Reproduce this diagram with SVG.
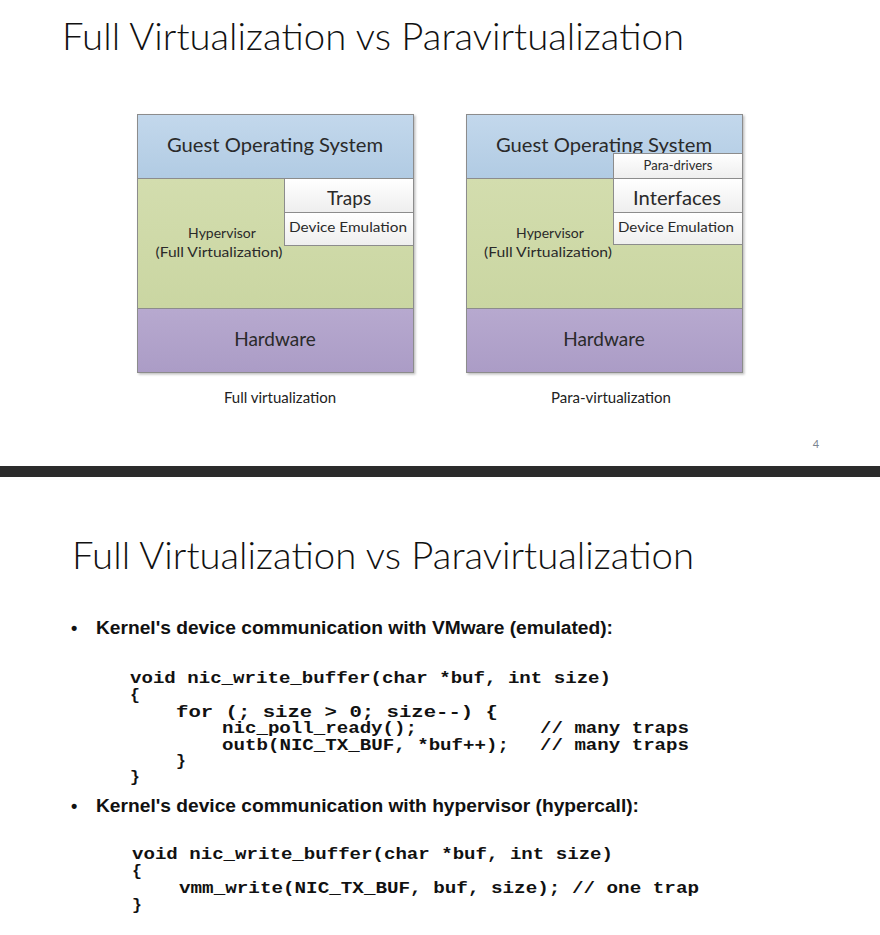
<svg xmlns="http://www.w3.org/2000/svg" width="880" height="935" viewBox="0 0 880 935">
  <style>
    .title { font-family: Lato, "Open Sans", "Liberation Sans", sans-serif; font-weight: 300; font-size: 37px; fill: #111; }
    .lbl { font-family: Lato, "Open Sans", "Liberation Sans", sans-serif; fill: #2a2a2a; text-anchor: middle; }
    .cap { font-family: Lato, "Open Sans", "Liberation Sans", sans-serif; fill: #222; text-anchor: middle; font-size: 15px; }
    .layer { stroke: #8c8c8c; stroke-width: 1; }
    .bul { font-family: "Liberation Sans", Arial, sans-serif; font-weight: bold; font-size: 18px; fill: #111; }
    .code { font-family: "Liberation Mono", "Courier New", monospace; font-weight: bold; font-size: 16.5px; fill: #111; white-space: pre; }
  </style>
  <defs>
    <linearGradient id="gBlue" x1="0" y1="0" x2="0" y2="1">
      <stop offset="0" stop-color="#c3d8ec"/>
      <stop offset="1" stop-color="#b1cbe3"/>
    </linearGradient>
    <linearGradient id="gGreen" x1="0" y1="0" x2="0" y2="1">
      <stop offset="0" stop-color="#d3ddae"/>
      <stop offset="1" stop-color="#cad6a2"/>
    </linearGradient>
    <linearGradient id="gPurple" x1="0" y1="0" x2="0" y2="1">
      <stop offset="0" stop-color="#b7a9cf"/>
      <stop offset="1" stop-color="#ab9cc6"/>
    </linearGradient>
    <linearGradient id="gWhite" x1="0" y1="0" x2="0" y2="1">
      <stop offset="0" stop-color="#ffffff"/>
      <stop offset="1" stop-color="#eeeeee"/>
    </linearGradient>
    <filter id="shadow" x="-5%" y="-5%" width="110%" height="110%">
      <feDropShadow dx="1.5" dy="1.5" stdDeviation="1.2" flood-color="#000" flood-opacity="0.25"/>
    </filter>
  </defs>

  <rect x="0" y="0" width="880" height="935" fill="#ffffff"/>

  <!-- slide 4 -->
  <text class="title" x="62" y="50" textLength="622" lengthAdjust="spacingAndGlyphs">Full Virtualization vs Paravirtualization</text>

  <!-- full virtualization stack -->
  <g id="full-virt">
    <g filter="url(#shadow)">
      <rect class="layer" x="137.5" y="114.5" width="276" height="64" fill="url(#gBlue)"/>
      <rect class="layer" x="137.5" y="178.5" width="276" height="130" fill="url(#gGreen)"/>
      <rect class="layer" x="137.5" y="308.5" width="276" height="64" fill="url(#gPurple)"/>
    </g>
    <rect class="layer" x="284.5" y="178.5" width="129" height="34" fill="url(#gWhite)"/>
    <rect class="layer" x="284.5" y="212.5" width="129" height="33" fill="url(#gWhite)"/>
    <text class="lbl" x="275" y="152" font-size="19" textLength="216" lengthAdjust="spacingAndGlyphs">Guest Operating System</text>
    <text class="lbl" x="349" y="205" font-size="19">Traps</text>
    <text class="lbl" x="348" y="232" font-size="14" textLength="118" lengthAdjust="spacingAndGlyphs">Device Emulation</text>
    <text class="lbl" x="222" y="238" font-size="14">Hypervisor</text>
    <text class="lbl" x="219" y="257" font-size="14" textLength="127" lengthAdjust="spacingAndGlyphs">(Full Virtualization)</text>
    <text class="lbl" x="275" y="346" font-size="19">Hardware</text>
    <text class="cap" x="280" y="403">Full virtualization</text>
  </g>

  <!-- para-virtualization stack -->
  <g id="para-virt">
    <g filter="url(#shadow)">
      <rect class="layer" x="466.5" y="114.5" width="276" height="64" fill="url(#gBlue)"/>
      <rect class="layer" x="466.5" y="178.5" width="276" height="130" fill="url(#gGreen)"/>
      <rect class="layer" x="466.5" y="308.5" width="276" height="64" fill="url(#gPurple)"/>
    </g>
    <text class="lbl" x="604" y="152" font-size="19" textLength="216" lengthAdjust="spacingAndGlyphs">Guest Operating System</text>
    <rect class="layer" x="613.5" y="153.5" width="129" height="25" fill="url(#gWhite)"/>
    <rect class="layer" x="613.5" y="178.5" width="129" height="34" fill="url(#gWhite)"/>
    <rect class="layer" x="613.5" y="212.5" width="129" height="32" fill="url(#gWhite)"/>
    <text class="lbl" x="678" y="170" font-size="13">Para-drivers</text>
    <text class="lbl" x="677" y="205" font-size="19" textLength="88" lengthAdjust="spacingAndGlyphs">Interfaces</text>
    <text class="lbl" x="676" y="232" font-size="14" textLength="116" lengthAdjust="spacingAndGlyphs">Device Emulation</text>
    <text class="lbl" x="550" y="238" font-size="14">Hypervisor</text>
    <text class="lbl" x="548" y="257" font-size="14" textLength="128" lengthAdjust="spacingAndGlyphs">(Full Virtualization)</text>
    <text class="lbl" x="604" y="346" font-size="19">Hardware</text>
    <text class="cap" x="611" y="403">Para-virtualization</text>
  </g>

  <text x="816" y="448" font-family="Lato, 'Open Sans', sans-serif" font-size="11" fill="#7a8590" text-anchor="middle">4</text>

  <!-- slide separator -->
  <rect x="0" y="466" width="880" height="11" fill="#2b2b2b"/>

  <!-- slide 5 -->
  <text class="title" x="72" y="569" textLength="622" lengthAdjust="spacingAndGlyphs">Full Virtualization vs Paravirtualization</text>

  <g id="emulated">
    <text class="bul" x="71" y="634">•</text>
    <text class="bul" x="96" y="634" textLength="517" lengthAdjust="spacingAndGlyphs">Kernel's device communication with VMware (emulated):</text>
    <text class="code" x="130" y="683" textLength="481" lengthAdjust="spacingAndGlyphs">void nic_write_buffer(char *buf, int size)</text>
    <text class="code" x="130" y="700">{</text>
    <text class="code" x="176" y="717" textLength="322" lengthAdjust="spacingAndGlyphs">for (; size &gt; 0; size--) {</text>
    <text class="code" x="222" y="733" textLength="195" lengthAdjust="spacingAndGlyphs">nic_poll_ready();</text>
    <text class="code" x="540" y="733" textLength="149" lengthAdjust="spacingAndGlyphs">// many traps</text>
    <text class="code" x="222" y="750" textLength="287" lengthAdjust="spacingAndGlyphs">outb(NIC_TX_BUF, *buf++);</text>
    <text class="code" x="540" y="750" textLength="149" lengthAdjust="spacingAndGlyphs">// many traps</text>
    <text class="code" x="176" y="766">}</text>
    <text class="code" x="130" y="782">}</text>
  </g>

  <g id="hypercall">
    <text class="bul" x="71" y="812">•</text>
    <text class="bul" x="96" y="812" textLength="543" lengthAdjust="spacingAndGlyphs">Kernel's device communication with hypervisor (hypercall):</text>
    <text class="code" x="132" y="859" textLength="481" lengthAdjust="spacingAndGlyphs">void nic_write_buffer(char *buf, int size)</text>
    <text class="code" x="132" y="876">{</text>
    <text class="code" x="179" y="893" textLength="520" lengthAdjust="spacingAndGlyphs">vmm_write(NIC_TX_BUF, buf, size); // one trap</text>
    <text class="code" x="132" y="910">}</text>
  </g>
</svg>
